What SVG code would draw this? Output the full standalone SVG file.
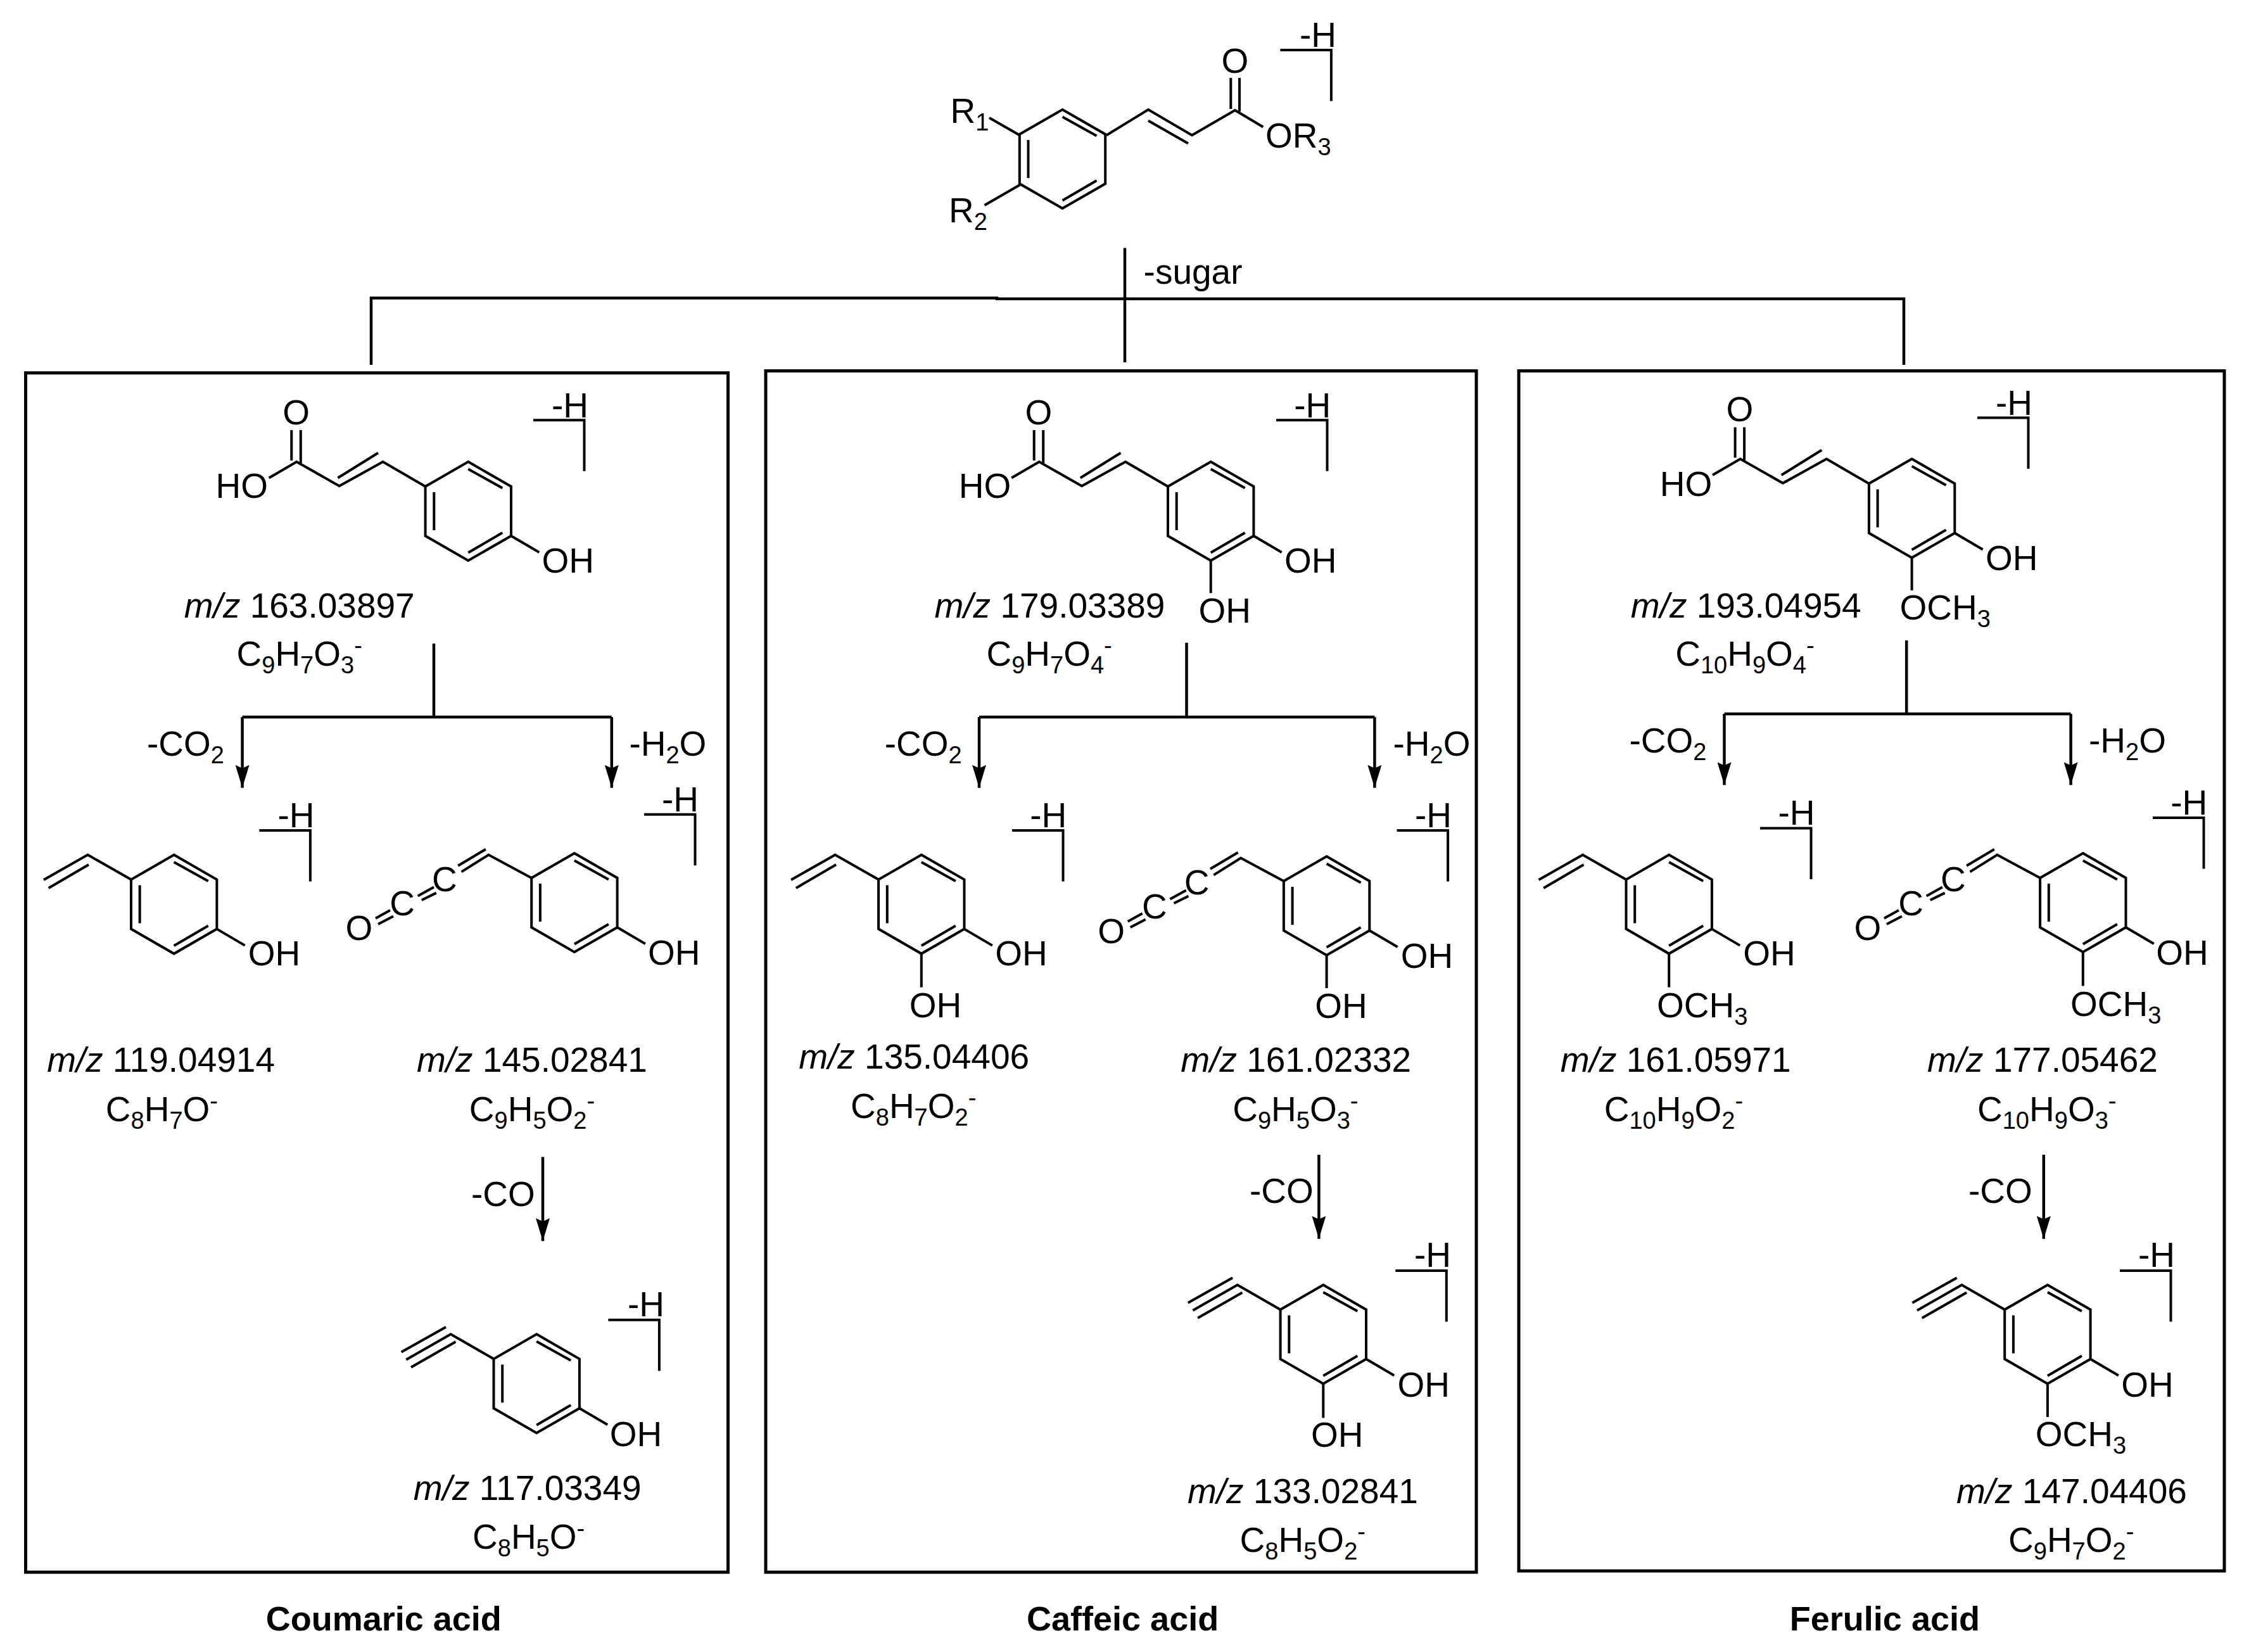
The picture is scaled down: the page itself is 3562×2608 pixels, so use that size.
<svg xmlns="http://www.w3.org/2000/svg" xmlns:xlink="http://www.w3.org/1999/xlink" width="3562" height="2608" viewBox="0 0 3562 2608">
<style>
text{font-family:"Liberation Sans",Arial,sans-serif;font-size:55px;fill:#000}
.s{font-size:38px}
.i{font-style:italic}
.b{font-weight:bold;font-size:54px;text-anchor:middle}
.m{text-anchor:middle}
.l,path,line{fill:none;stroke:#000;stroke-width:4}
.box{fill:none;stroke:#000;stroke-width:5}
.c{fill:none;stroke:#000;stroke-width:4.5}
.a{marker-end:url(#arrow)}
</style>
<defs>
<marker id="arrow" viewBox="0 0 36 22" refX="36" refY="11" markerWidth="36" markerHeight="22" markerUnits="userSpaceOnUse" orient="auto"><path d="M0 0L5 11L0 22L36 11Z" style="fill:#000;stroke:none"/></marker>
<path id="ring" d="M0 0L67.7 39V117L0 156L-67.7 117V39ZM0 11.5L54 41.5M-54 48V108M0 143.5L54 112"/>
<path id="ohb" d="M67.7 117L112 143"/>
<path id="acidchain" d="M-67.7 39L-134.7 0L-203.6 38.3L-270.9 0L-314.6 25.5M-205.9 25.5L-142.3 -14M-279 -50V-2M-264.5 -50V2"/>
<path id="vinyl" d="M-67.7 39L-136.2 0L-205.7 39.4M-198 52.4L-134.7 15.4"/>
<path id="ketene" d="M-67.7 39L-135.5 2.6L-178.3 29.4M-140 -6.3L-183.7 19.8M-247.2 67.6L-221.9 53.6M-241.1 74L-218.1 62.6M-313.9 102.7L-290.9 90M-309.9 112L-285.9 99.5"/>
<path id="ethynyl" d="M-67.7 39L-135.5 0L-205.9 40.2M-143.2 -11.3L-213.5 28.2M-127.8 12L-198.2 52.2"/>
<path id="brk" d="M0 0H80.5V80.5"/>
</defs>
<rect width="3562" height="2608" fill="#fff"/>

<g id="connectors">
<path class="c" d="M1776 391.5V572M586 576V470.5H1574V471.7H3006V576"/>
<path class="c" d="M685 1016V1132M382.6 1132H965.8"/>
<path class="c a" d="M382.6 1132V1243.7"/>
<path class="c a" d="M965.8 1132V1243.7"/>
<path class="c a" d="M857 1826.4V1959.3"/>
<path class="c" d="M1873.5 1014.8V1132M1546 1132H2170.4"/>
<path class="c a" d="M1546 1132V1243.7"/>
<path class="c a" d="M2170.4 1132V1243.7"/>
<path class="c a" d="M2082.4 1823V1955.8"/>
<path class="c" d="M3010.2 1011V1127M2722.5 1127H3269.6"/>
<path class="c a" d="M2722.5 1127V1239.3"/>
<path class="c a" d="M3269.6 1127V1239.3"/>
<path class="c a" d="M3226.8 1823V1955.8"/>
</g>

<g id="boxes">
<rect id="box-coumaric" class="box" x="40.5" y="588.7" width="1109" height="1893.3"/>
<rect id="box-caffeic" class="box" x="1209" y="585.5" width="1122" height="1896.5"/>
<rect id="box-ferulic" class="box" x="2398" y="585.5" width="1114" height="1894.5"/>
</g>

<g id="precursor">
<use href="#ring" x="1677.5" y="173"/>
<path d="M1747 213.5L1813 173L1882 213.5L1950 174L1994.4 200.5M1813 190.6L1876 226.6M1943.3 123V172M1957 123V176M1610 213.5L1562 186M1610 292L1554.6 324"/>
<use href="#brk" x="2021.4" y="79"/>
<text x="2052" y="74">-H</text>
<text class="m" x="1950" y="114.7">O</text>
<text x="1998" y="233">OR<tspan class="s" dy="12">3</tspan></text>
<text x="1500.5" y="193.7">R<tspan class="s" dy="12">1</tspan></text>
<text x="1498" y="351">R<tspan class="s" dy="12">2</tspan></text>
</g>
<text id="sugar-label" x="1805.6" y="448">-sugar</text>

<g id="coumaric-parent">
<use href="#ring" x="739.3" y="729"/><use href="#acidchain" x="739.3" y="729"/><use href="#ohb" x="739.3" y="729"/>
<use href="#brk" x="842" y="663.3"/>
<text x="871" y="658.9">-H</text>
<text class="m" x="467.6" y="669.7">O</text>
<text x="340.5" y="786.4">HO</text>
<text x="855.6" y="904.4">OH</text>
<text x="290.8" y="974.6"><tspan class="i">m/z</tspan> 163.03897</text>
<text x="373.5" y="1051">C<tspan class="s" dy="12">9</tspan><tspan dy="-12">H</tspan><tspan class="s" dy="12">7</tspan><tspan dy="-12">O</tspan><tspan class="s" dy="12">3</tspan><tspan class="s" dy="-31">-</tspan></text>
</g>
<text id="coumaric-co2" x="232" y="1192.7">-CO<tspan class="s" dy="12">2</tspan></text>
<text id="coumaric-h2o" x="993.4" y="1192.7">-H<tspan class="s" dy="12">2</tspan><tspan dy="-12">O</tspan></text>
<g id="coumaric-vinyl">
<use href="#ring" x="274.7" y="1349.6"/><use href="#vinyl" x="274.7" y="1349.6"/><use href="#ohb" x="274.7" y="1349.6"/>
<use href="#brk" x="409.4" y="1311"/>
<text x="438.5" y="1306">-H</text>
<text x="391.8" y="1524">OH</text>
<text x="74.2" y="1692.2"><tspan class="i">m/z</tspan> 119.04914</text>
<text x="166.8" y="1770">C<tspan class="s" dy="12">8</tspan><tspan dy="-12">H</tspan><tspan class="s" dy="12">7</tspan><tspan dy="-12">O</tspan><tspan class="s" dy="-19">-</tspan></text>
</g>
<g id="coumaric-ketene">
<use href="#ring" x="906.9" y="1347"/><use href="#ketene" x="906.9" y="1347"/><use href="#ohb" x="906.9" y="1347"/>
<use href="#brk" x="1017" y="1285.8"/>
<text x="1045" y="1280.7">-H</text>
<text class="m" x="701.9" y="1407">C</text><text class="m" x="635.2" y="1445">C</text><text class="m" x="566.9" y="1483.5">O</text>
<text x="1023" y="1523">OH</text>
<text x="658" y="1692.2"><tspan class="i">m/z</tspan> 145.02841</text>
<text x="740.8" y="1770">C<tspan class="s" dy="12">9</tspan><tspan dy="-12">H</tspan><tspan class="s" dy="12">5</tspan><tspan dy="-12">O</tspan><tspan class="s" dy="12">2</tspan><tspan class="s" dy="-31">-</tspan></text>
</g>
<text id="coumaric-co" x="743.9" y="1904.2">-CO</text>
<g id="coumaric-ethynyl">
<use href="#ring" x="847.2" y="2106.3"/><use href="#ethynyl" x="847.2" y="2106.3"/><use href="#ohb" x="847.2" y="2106.3"/>
<use href="#brk" x="960.4" y="2083.7"/>
<text x="991" y="2078">-H</text>
<text x="962.8" y="2283">OH</text>
<text x="652.8" y="2367.7"><tspan class="i">m/z</tspan> 117.03349</text>
<text x="746" y="2445.4">C<tspan class="s" dy="12">8</tspan><tspan dy="-12">H</tspan><tspan class="s" dy="12">5</tspan><tspan dy="-12">O</tspan><tspan class="s" dy="-19">-</tspan></text>
</g>
<text id="coumaric-title" class="b" x="605.8" y="2574">Coumaric acid</text>

<g id="caffeic-parent">
<use href="#ring" x="1911.7" y="729"/><use href="#acidchain" x="1911.7" y="729"/><use href="#ohb" x="1911.7" y="729"/>
<path d="M1911.7 885V936.3"/>
<use href="#brk" x="2015" y="663.3"/>
<text x="2043.3" y="658.9">-H</text>
<text class="m" x="1640" y="669.7">O</text>
<text x="1513.8" y="786.4">HO</text>
<text x="2028" y="904.4">OH</text>
<text x="1892.6" y="982.9">OH</text>
<text x="1475.5" y="974.6"><tspan class="i">m/z</tspan> 179.03389</text>
<text x="1557.4" y="1051">C<tspan class="s" dy="12">9</tspan><tspan dy="-12">H</tspan><tspan class="s" dy="12">7</tspan><tspan dy="-12">O</tspan><tspan class="s" dy="12">4</tspan><tspan class="s" dy="-31">-</tspan></text>
</g>
<text id="caffeic-co2" x="1396.7" y="1192.7">-CO<tspan class="s" dy="12">2</tspan></text>
<text id="caffeic-h2o" x="2199.5" y="1192.7">-H<tspan class="s" dy="12">2</tspan><tspan dy="-12">O</tspan></text>
<g id="caffeic-vinyl">
<use href="#ring" x="1454.8" y="1349.6"/><use href="#vinyl" x="1454.8" y="1349.6"/><use href="#ohb" x="1454.8" y="1349.6"/>
<path d="M1454.8 1505.6V1558.6"/>
<use href="#brk" x="1598" y="1311"/>
<text x="1626.3" y="1306">-H</text>
<text x="1571.2" y="1524">OH</text>
<text x="1435.7" y="1606">OH</text>
<text x="1261.2" y="1687.2"><tspan class="i">m/z</tspan> 135.04406</text>
<text x="1343" y="1765">C<tspan class="s" dy="12">8</tspan><tspan dy="-12">H</tspan><tspan class="s" dy="12">7</tspan><tspan dy="-12">O</tspan><tspan class="s" dy="12">2</tspan><tspan class="s" dy="-31">-</tspan></text>
</g>
<g id="caffeic-ketene">
<use href="#ring" x="2094.6" y="1352"/><use href="#ketene" x="2094.6" y="1352"/><use href="#ohb" x="2094.6" y="1352"/>
<path d="M2094.6 1508V1560"/>
<use href="#brk" x="2205.6" y="1311"/>
<text x="2234" y="1306">-H</text>
<text class="m" x="1889.6" y="1412">C</text><text class="m" x="1822.9" y="1450">C</text><text class="m" x="1754.6" y="1488.5">O</text>
<text x="2211.7" y="1527.5">OH</text>
<text x="2076.3" y="1607.4">OH</text>
<text x="1864.3" y="1692.2"><tspan class="i">m/z</tspan> 161.02332</text>
<text x="1946.2" y="1770">C<tspan class="s" dy="12">9</tspan><tspan dy="-12">H</tspan><tspan class="s" dy="12">5</tspan><tspan dy="-12">O</tspan><tspan class="s" dy="12">3</tspan><tspan class="s" dy="-31">-</tspan></text>
</g>
<text id="caffeic-co" x="1973" y="1899.2">-CO</text>
<g id="caffeic-ethynyl">
<use href="#ring" x="2089.3" y="2028.5"/><use href="#ethynyl" x="2089.3" y="2028.5"/><use href="#ohb" x="2089.3" y="2028.5"/>
<path d="M2089.3 2184.5V2238.4"/>
<use href="#brk" x="2203.3" y="2006"/>
<text x="2233" y="2000.3">-H</text>
<text x="2206.4" y="2205.2">OH</text>
<text x="2070" y="2284.3">OH</text>
<text x="1875" y="2372.7"><tspan class="i">m/z</tspan> 133.02841</text>
<text x="1957.6" y="2450.4">C<tspan class="s" dy="12">8</tspan><tspan dy="-12">H</tspan><tspan class="s" dy="12">5</tspan><tspan dy="-12">O</tspan><tspan class="s" dy="12">2</tspan><tspan class="s" dy="-31">-</tspan></text>
</g>
<text id="caffeic-title" class="b" x="1772.6" y="2574">Caffeic acid</text>

<g id="ferulic-parent">
<use href="#ring" x="3018.6" y="724.5"/><use href="#acidchain" x="3018.6" y="724.5"/><use href="#ohb" x="3018.6" y="724.5"/>
<path d="M3018.6 880.5V932"/>
<use href="#brk" x="3122" y="659.5"/>
<text x="3151" y="655">-H</text>
<text class="m" x="2747" y="665">O</text>
<text x="2620.7" y="782.6">HO</text>
<text x="3135" y="900">OH</text>
<text x="2999.5" y="977.8">OCH<tspan class="s" dy="12">3</tspan></text>
<text x="2574.8" y="974.6"><tspan class="i">m/z</tspan> 193.04954</text>
<text x="2645.2" y="1051">C<tspan class="s" dy="12">10</tspan><tspan dy="-12">H</tspan><tspan class="s" dy="12">9</tspan><tspan dy="-12">O</tspan><tspan class="s" dy="12">4</tspan><tspan class="s" dy="-31">-</tspan></text>
</g>
<text id="ferulic-co2" x="2572.5" y="1188">-CO<tspan class="s" dy="12">2</tspan></text>
<text id="ferulic-h2o" x="3298" y="1188">-H<tspan class="s" dy="12">2</tspan><tspan dy="-12">O</tspan></text>
<g id="ferulic-vinyl">
<use href="#ring" x="2635.2" y="1349.6"/><use href="#vinyl" x="2635.2" y="1349.6"/><use href="#ohb" x="2635.2" y="1349.6"/>
<path d="M2635.2 1505.6V1558.6"/>
<use href="#brk" x="2779" y="1307.5"/>
<text x="2807.4" y="1302.4">-H</text>
<text x="2752.3" y="1524">OH</text>
<text x="2616" y="1606">OCH<tspan class="s" dy="12">3</tspan></text>
<text x="2463.8" y="1692.2"><tspan class="i">m/z</tspan> 161.05971</text>
<text x="2532.7" y="1770">C<tspan class="s" dy="12">10</tspan><tspan dy="-12">H</tspan><tspan class="s" dy="12">9</tspan><tspan dy="-12">O</tspan><tspan class="s" dy="12">2</tspan><tspan class="s" dy="-31">-</tspan></text>
</g>
<g id="ferulic-ketene">
<use href="#ring" x="3288.8" y="1347"/><use href="#ketene" x="3288.8" y="1347"/><use href="#ohb" x="3288.8" y="1347"/>
<path d="M3288.8 1503V1556.5"/>
<use href="#brk" x="3399" y="1291"/>
<text x="3427.3" y="1285.8">-H</text>
<text class="m" x="3083.8" y="1407">C</text><text class="m" x="3017.1" y="1445">C</text><text class="m" x="2948.8" y="1483.5">O</text>
<text x="3404.3" y="1523">OH</text>
<text x="3269" y="1603.9">OCH<tspan class="s" dy="12">3</tspan></text>
<text x="3043" y="1692.2"><tspan class="i">m/z</tspan> 177.05462</text>
<text x="3122" y="1770">C<tspan class="s" dy="12">10</tspan><tspan dy="-12">H</tspan><tspan class="s" dy="12">9</tspan><tspan dy="-12">O</tspan><tspan class="s" dy="12">3</tspan><tspan class="s" dy="-31">-</tspan></text>
</g>
<text id="ferulic-co" x="3108" y="1899.2">-CO</text>
<g id="ferulic-ethynyl">
<use href="#ring" x="3232.9" y="2028.5"/><use href="#ethynyl" x="3232.9" y="2028.5"/><use href="#ohb" x="3232.9" y="2028.5"/>
<path d="M3232.9 2184.5V2237"/>
<use href="#brk" x="3347" y="2006"/>
<text x="3376" y="2000.3">-H</text>
<text x="3349.2" y="2205.2">OH</text>
<text x="3213.8" y="2283">OCH<tspan class="s" dy="12">3</tspan></text>
<text x="3089" y="2372.7"><tspan class="i">m/z</tspan> 147.04406</text>
<text x="3171" y="2450.4">C<tspan class="s" dy="12">9</tspan><tspan dy="-12">H</tspan><tspan class="s" dy="12">7</tspan><tspan dy="-12">O</tspan><tspan class="s" dy="12">2</tspan><tspan class="s" dy="-31">-</tspan></text>
</g>
<text id="ferulic-title" class="b" x="2975.9" y="2574">Ferulic acid</text>
</svg>
